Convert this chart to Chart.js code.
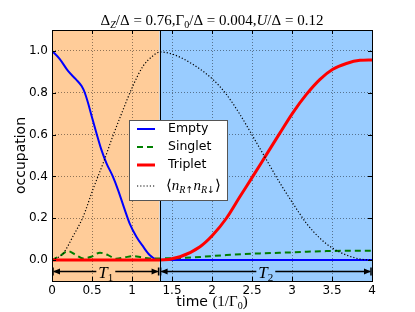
<!DOCTYPE html>
<html>
<head>
<meta charset="utf-8">
<script src="https://cdn.jsdelivr.net/npm/chart.js@4"></script>
<style>html,body{margin:0;padding:0;background:#fff}</style>
</head>
<body>
<canvas id="myChart" width="415" height="312"></canvas>
<script>
// values (time in units of 1/Gamma0)
var emptyT = [0, 0.1, 0.2, 0.3, 0.37, 0.41, 0.45, 0.49, 0.555, 0.617, 0.68, 0.76, 0.825, 0.91, 0.97, 1.055, 1.14, 1.22, 1.3, 1.345, 2, 3, 4];
var emptyV = [1.0, 0.96, 0.904, 0.864, 0.832, 0.80, 0.752, 0.696, 0.608, 0.528, 0.464, 0.40, 0.336, 0.24, 0.176, 0.112, 0.064, 0.024, 0.003, 0, 0, 0, 0];

var singletT = [0, 0.1, 0.2, 0.3, 0.39, 0.49, 0.6, 0.7, 0.8, 0.91, 1.01, 1.12, 1.22, 1.345, 1.76, 2.18, 2.6, 3.01, 3.43, 4];
var singletV = [0, 0.02, 0.043, 0.024, 0.008, 0.016, 0.035, 0.024, 0.006, 0.013, 0.019, 0.013, 0.008, 0.008, 0.013, 0.024, 0.032, 0.037, 0.043, 0.045];

var tripletT = [0, 1.345, 1.6, 1.85, 2.01, 2.18, 2.35, 2.51, 2.68, 2.85, 3.01, 3.18, 3.35, 3.51, 3.68, 3.85, 4];
var tripletV = [0, 0, 0.016, 0.064, 0.12, 0.2, 0.304, 0.40, 0.504, 0.608, 0.704, 0.792, 0.864, 0.912, 0.94, 0.955, 0.957];

var doubleT = [0, 0.14, 0.26, 0.39, 0.51, 0.64, 0.76, 0.89, 1.01, 1.14, 1.26, 1.35, 1.51, 1.76, 2.01, 2.18, 2.35, 2.51, 2.68, 2.85, 3.01, 3.18, 3.35, 3.51, 3.68, 3.85, 4];
var doubleV = [0, 0.032, 0.112, 0.208, 0.336, 0.464, 0.592, 0.72, 0.832, 0.928, 0.976, 0.995, 0.984, 0.936, 0.864, 0.792, 0.696, 0.592, 0.48, 0.368, 0.272, 0.176, 0.104, 0.056, 0.024, 0.005, 0];

var phaseEdges = [0, 1.345, 4];
var phaseLabels = ['1', '2'];
var xTicks = [0, 0.5, 1, 1.5, 2, 2.5, 3, 3.5, 4];
var yTicks = [0, 0.2, 0.4, 0.6, 0.8, 1.0];

var SANS = '"DejaVu Sans", sans-serif';
var SERIF = '"Liberation Serif", "DejaVu Serif", serif';
var phaseColors = ['#ffcc99', '#99ccff'];

function pairs(xs, ys) {
    return xs.map((x, i) => { return { x: x, y: ys[i] } });
}

function runsWidth(ctx, runs) {
    var w = 0;
    runs.forEach(r => { ctx.font = r.font; w += ctx.measureText(r.t).width; });
    return w;
}

// draw a list of text pieces one after another, each with its own font
function drawRuns(ctx, runs, x, y, align) {
    var w = runsWidth(ctx, runs);
    var cx = align === 'center' ? x - w / 2 : x;
    ctx.textAlign = 'left';
    ctx.textBaseline = 'alphabetic';
    runs.forEach(r => {
        ctx.font = r.font;
        ctx.fillText(r.t, cx, y + (r.dy || 0));
        cx += ctx.measureText(r.t).width;
    });
    return w;
}

var decor = {
    id: 'decor',
    beforeDraw(chart) {
        var ctx = chart.ctx, a = chart.chartArea, xs = chart.scales.x;
        ctx.save();
        for (var i = 0; i < phaseEdges.length - 1; i++) {
            var l = xs.getPixelForValue(phaseEdges[i]), r = xs.getPixelForValue(phaseEdges[i + 1]);
            ctx.fillStyle = phaseColors[i];
            ctx.fillRect(l, a.top, r - l, a.bottom - a.top);
        }
        ctx.restore();
    },
    afterDatasetsDraw(chart) {
        var ctx = chart.ctx, a = chart.chartArea, xs = chart.scales.x, ys = chart.scales.y;
        ctx.save();
        // phase boundary
        var bx = Math.round(xs.getPixelForValue(phaseEdges[1])) + 0.5;
        ctx.strokeStyle = '#000';
        ctx.lineWidth = 1;
        ctx.beginPath(); ctx.moveTo(bx, a.top); ctx.lineTo(bx, a.bottom); ctx.stroke();

        // inner tick marks
        ctx.beginPath();
        xTicks.forEach(v => {
            var px = Math.round(xs.getPixelForValue(v)) + 0.5;
            ctx.moveTo(px, a.bottom); ctx.lineTo(px, a.bottom - 4);
            ctx.moveTo(px, a.top); ctx.lineTo(px, a.top + 4);
        });
        yTicks.forEach(v => {
            var py = Math.round(ys.getPixelForValue(v)) + 0.5;
            ctx.moveTo(a.left, py); ctx.lineTo(a.left + 4, py);
            ctx.moveTo(a.right, py); ctx.lineTo(a.right - 4, py);
        });
        ctx.stroke();

        // frame
        ctx.strokeRect(Math.round(a.left) + 0.5, Math.round(a.top) + 0.5, Math.round(a.right - a.left), Math.round(a.bottom - a.top));
        ctx.restore();
    },
    afterDraw(chart) {
        var ctx = chart.ctx, a = chart.chartArea, xs = chart.scales.x, ys = chart.scales.y;
        ctx.save();
        ctx.fillStyle = '#000';

        // title
        var tf = '15px ' + SERIF, tfs = '10px ' + SERIF, tfi = 'italic 15px ' + SERIF, tfsi = 'italic 10px ' + SERIF;
        drawRuns(ctx, [
            { t: 'Δ', font: tf }, { t: 'Z', font: tfsi, dy: 3 }, { t: '/Δ = 0.76,Γ', font: tf },
            { t: '0', font: tfs, dy: 3 }, { t: '/Δ = 0.004,', font: tf }, { t: 'U', font: tfi },
            { t: '/Δ = 0.12', font: tf }
        ], (a.left + a.right) / 2, 25, 'center');

        // axis titles
        drawRuns(ctx, [
            { t: 'time ', font: '14px ' + SANS }, { t: '(1/Γ', font: '15px ' + SERIF },
            { t: '0', font: '10px ' + SERIF, dy: 3 }, { t: ')', font: '15px ' + SERIF }
        ], (a.left + a.right) / 2, 306, 'center');
        ctx.save();
        ctx.translate(21, (a.top + a.bottom) / 2);
        ctx.rotate(-Math.PI / 2);
        ctx.font = '14px ' + SANS;
        ctx.textAlign = 'center';
        ctx.textBaseline = 'middle';
        ctx.fillText('occupation', 0, 0);
        ctx.restore();

        // T1 / T2 arrows
        var ay = Math.round(ys.getPixelForValue(-0.05)) + 0.5;
        for (var i = 0; i < phaseEdges.length - 1; i++) {
            var x1 = xs.getPixelForValue(phaseEdges[i]), x2 = xs.getPixelForValue(phaseEdges[i + 1]);
            var runs = [{ t: 'T', font: 'italic 17px ' + SERIF }, { t: phaseLabels[i], font: '11px ' + SERIF, dy: 3 }];
            var w = runsWidth(ctx, runs), cx = (x1 + x2) / 2;
            ctx.strokeStyle = '#000';
            ctx.lineWidth = 1.5;
            ctx.beginPath();
            ctx.moveTo(x1 + 2, ay); ctx.lineTo(cx - w / 2 - 2, ay);
            ctx.moveTo(cx + w / 2 + 2, ay); ctx.lineTo(x2 - 2, ay);
            ctx.moveTo(x1 + 1, ay - 4); ctx.lineTo(x1 + 1, ay + 4);
            ctx.moveTo(x2 - 1, ay - 4); ctx.lineTo(x2 - 1, ay + 4);
            ctx.stroke();
            ctx.beginPath();
            ctx.moveTo(x1 + 1, ay); ctx.lineTo(x1 + 8, ay - 3); ctx.lineTo(x1 + 8, ay + 3); ctx.closePath();
            ctx.moveTo(x2 - 1, ay); ctx.lineTo(x2 - 8, ay - 3); ctx.lineTo(x2 - 8, ay + 3); ctx.closePath();
            ctx.fill();
            drawRuns(ctx, runs, cx, ay + 6, 'center');
        }

        // legend box inside the plot
        var lx = 129.5, ly = 120.5, lw = 98, lh = 80;
        ctx.fillStyle = '#fff';
        ctx.fillRect(lx, ly, lw, lh);
        ctx.strokeStyle = '#555';
        ctx.lineWidth = 1;
        ctx.strokeRect(lx, ly, lw, lh);
        var rows = [129, 147, 165, 186];
        chart.data.datasets.forEach((ds, i) => {
            var y = rows[i];
            ctx.strokeStyle = ds.borderColor;
            ctx.lineWidth = ds.borderWidth;
            ctx.setLineDash(ds.borderDash || []);
            ctx.beginPath(); ctx.moveTo(137, y); ctx.lineTo(155, y); ctx.stroke();
            ctx.setLineDash([]);
            ctx.fillStyle = '#000';
            if (i < 3) {
                ctx.font = '12.5px ' + SANS;
                ctx.textBaseline = 'middle';
                ctx.textAlign = 'left';
                ctx.fillText(ds.label, 168, y);
            } else {
                var f = '15px ' + SERIF, fi = 'italic 15px ' + SERIF, fs = 'italic 10px ' + SERIF, fa = '9.5px ' + SANS;
                drawRuns(ctx, [
                    { t: '⟨', font: f }, { t: 'n', font: fi }, { t: 'R', font: fs, dy: 3 }, { t: '↑', font: fa, dy: 3 },
                    { t: 'n', font: fi }, { t: 'R', font: fs, dy: 3 }, { t: '↓', font: fa, dy: 3 }, { t: '⟩', font: f }
                ], 166, y + 4, 'left');
            }
        });
        ctx.restore();
    }
};

var ctx = document.getElementById('myChart');
var myChart = new Chart(ctx, {
    type: 'line',
    data: {
        datasets: [{
            label: 'Empty',
            data: pairs(emptyT, emptyV),
            borderColor: '#0000ff',
            borderWidth: 2,
            order: 4
        }, {
            label: 'Singlet',
            data: pairs(singletT, singletV),
            borderColor: '#008000',
            borderWidth: 2,
            borderDash: [6, 4],
            order: 3
        }, {
            label: 'Triplet',
            data: pairs(tripletT, tripletV),
            borderColor: '#ff0000',
            borderWidth: 3,
            order: 2
        }, {
            label: 'double',
            data: pairs(doubleT, doubleV),
            borderColor: '#000000',
            borderWidth: 1.2,
            borderDash: [1.2, 2],
            order: 1
        }]
    },
    options: {
        responsive: false,
        animation: false,
        devicePixelRatio: 1,
        layout: { padding: { top: 30, right: 43, left: 0, bottom: 0 } },
        elements: {
            point: { radius: 0 },
            line: { cubicInterpolationMode: 'monotone', fill: false }
        },
        plugins: { legend: { display: false }, tooltip: { enabled: false } },
        scales: {
            x: {
                type: 'linear', min: 0, max: 4,
                afterBuildTicks: (s) => { s.ticks = xTicks.map(v => ({ value: v })) },
                afterFit: (s) => { s.height = 31 },
                ticks: { callback: (v) => String(v), font: { family: SANS, size: 12 }, color: '#000', padding: 3, maxRotation: 0, autoSkip: false },
                grid: { color: 'rgba(0,0,0,0.55)', lineWidth: 0.8, drawTicks: false },
                border: { display: false, dash: [1, 2] }
            },
            y: {
                type: 'linear', min: -0.1, max: 1.1,
                afterBuildTicks: (s) => { s.ticks = yTicks.map(v => ({ value: v })) },
                afterFit: (s) => { s.width = 52 },
                ticks: { callback: (v) => v.toFixed(1), font: { family: SANS, size: 12 }, color: '#000', padding: 4 },
                grid: { color: 'rgba(0,0,0,0.55)', lineWidth: 0.8, drawTicks: false },
                border: { display: false, dash: [1, 2] }
            }
        }
    },
    plugins: [decor]
});
</script>
</body>
</html>
